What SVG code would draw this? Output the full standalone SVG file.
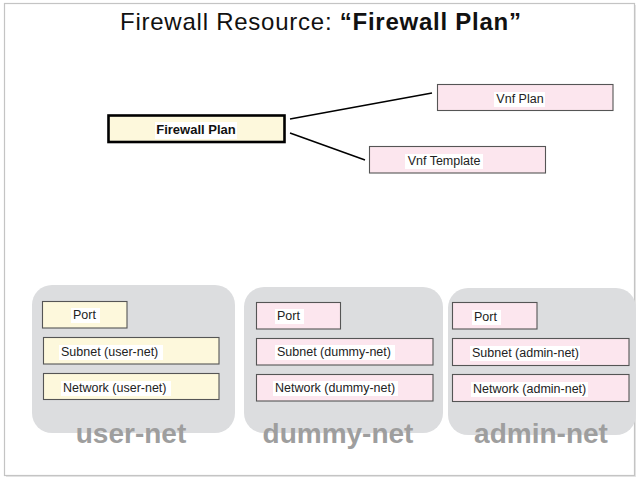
<svg xmlns="http://www.w3.org/2000/svg" width="640" height="480" viewBox="0 0 640 480">
<defs>
<style>
.frame{fill:#ffffff;stroke:#c4c4c4;stroke-width:1.2}
.grp{fill:#dcdddf}
.y{fill:#fdf8dc;stroke:#555;stroke-width:1.1}
.p{fill:#fce6ee;stroke:#555;stroke-width:1.1}
.bg{fill:#ffffff}
.t{font-family:"Liberation Sans",Arial,sans-serif;font-size:12.5px;fill:#222}
.net{font-family:"Liberation Sans",Arial,sans-serif;font-size:28px;font-weight:bold;fill:#9e9e9e;text-anchor:middle}
.conn{stroke:#000;stroke-width:1.5;fill:none}
</style>
</defs>
<rect x="0" y="0" width="640" height="480" fill="#ffffff"/>
<rect x="6" y="5" width="630" height="472" fill="#e6e6e6"/>
<rect class="frame" x="4.5" y="3.5" width="630" height="472"/>
<text x="120" y="30" textLength="401" lengthAdjust="spacing" font-family="'Liberation Sans',Arial,sans-serif" font-size="24" fill="#111"><tspan>Firewall Resource: </tspan><tspan font-weight="bold">“Firewall Plan”</tspan></text>

<g id="connectors">
<line class="conn" x1="290" y1="119" x2="432" y2="93"/>
<line class="conn" x1="290" y1="133" x2="365" y2="160"/>
</g>

<g id="firewall-plan">
<rect x="108.5" y="115.5" width="176" height="26.5" fill="#fdf8dc" stroke="#000" stroke-width="2.6"/>
<rect class="bg" x="155" y="122" width="82" height="17"/>
<text x="196" y="134" text-anchor="middle" font-family="'Liberation Sans',Arial,sans-serif" font-size="13" font-weight="bold" fill="#111">Firewall Plan</text>
</g>
<g id="vnf-plan">
<rect class="p" x="437.5" y="84.5" width="175.5" height="26"/>
<rect class="bg" x="494" y="92" width="51" height="15"/>
<text class="t" x="520" y="103" text-anchor="middle">Vnf Plan</text>
</g>
<g id="vnf-template">
<rect class="p" x="369.5" y="146.5" width="176" height="26.5"/>
<rect class="bg" x="405" y="154" width="78" height="15"/>
<text class="t" x="444" y="165" text-anchor="middle">Vnf Template</text>
</g>

<g id="user-net">
<rect class="grp" x="32" y="285" width="203" height="148" rx="20"/>
<text class="net" x="131" y="443">user-net</text>
</g>
<g id="user-port">
<rect class="y" x="42.5" y="301.5" width="84.5" height="26.5"/>
<rect class="bg" x="71" y="308" width="29" height="15"/>
<text class="t" x="73" y="319">Port</text>
</g>
<g id="user-subnet">
<rect class="y" x="43.5" y="337.5" width="175.5" height="26.5"/>
<rect class="bg" x="59" y="345" width="104" height="15"/>
<text class="t" x="61" y="356">Subnet (user-net)</text>
</g>
<g id="user-network">
<rect class="y" x="43.5" y="373.5" width="175.5" height="26"/>
<rect class="bg" x="61" y="381" width="110" height="15"/>
<text class="t" x="63" y="392">Network (user-net)</text>
</g>

<g id="dummy-net">
<rect class="grp" x="244" y="287" width="199" height="146" rx="20"/>
<text class="net" x="338" y="443">dummy-net</text>
</g>
<g id="dummy-port">
<rect class="p" x="256.5" y="302.5" width="84" height="26.5"/>
<rect class="bg" x="275" y="309" width="29" height="15"/>
<text class="t" x="277" y="320">Port</text>
</g>
<g id="dummy-subnet">
<rect class="p" x="256.5" y="338.5" width="176.5" height="26.5"/>
<rect class="bg" x="275" y="345" width="120" height="15"/>
<text class="t" x="277" y="356">Subnet (dummy-net)</text>
</g>
<g id="dummy-network">
<rect class="p" x="256.5" y="374.5" width="176.5" height="26.5"/>
<rect class="bg" x="273" y="381" width="125" height="15"/>
<text class="t" x="275" y="392">Network (dummy-net)</text>
</g>

<g id="admin-net">
<rect class="grp" x="448" y="288" width="188" height="147" rx="20"/>
<text class="net" x="541" y="443">admin-net</text>
</g>
<g id="admin-port">
<rect class="p" x="452.5" y="302.5" width="84.5" height="26.5"/>
<rect class="bg" x="472" y="310" width="29" height="15"/>
<text class="t" x="474" y="321">Port</text>
</g>
<g id="admin-subnet">
<rect class="p" x="452.5" y="338.5" width="176.5" height="27"/>
<rect class="bg" x="470" y="346" width="110" height="15"/>
<text class="t" x="472" y="357">Subnet (admin-net)</text>
</g>
<g id="admin-network">
<rect class="p" x="452.5" y="374.5" width="176.5" height="27"/>
<rect class="bg" x="471" y="382" width="117" height="15"/>
<text class="t" x="473" y="393">Network (admin-net)</text>
</g>
</svg>
